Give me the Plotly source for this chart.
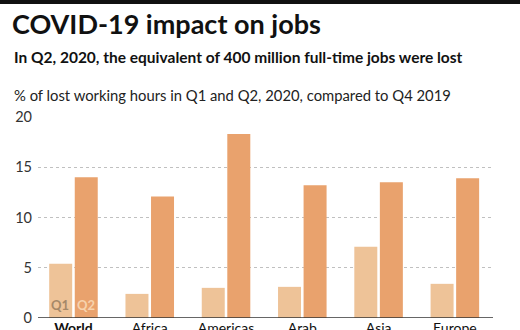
import plotly.graph_objects as go

regions = ["World", "Africa", "Americas", "Arab States", "Asia and Pacific", "Europe and Central Asia"]
tick_labels = ["<b>World</b>", "Africa", "Americas", "Arab<br>States", "Asia<br>and Pacific", "Europe<br>and Central Asia"]
q1_values = [5.4, 2.4, 3.0, 3.1, 7.1, 3.4]
q2_values = [14.0, 12.1, 18.3, 13.2, 13.5, 13.9]
y_ticks = [0, 5, 10, 15, 20]

FONT = "Lato"
W, H = 520, 330
L, R, T, B = 38, 27, 117, 12
pw = W - L - R
ph = H - T - B

def px_to_paper_x(px):
    return (px - L) / pw

def px_to_paper_y(py):
    return (H - B - py) / ph

fig = go.Figure()
fig.add_trace(go.Bar(x=regions, y=q1_values, name="Q1", marker=dict(color="#EEC398", line=dict(width=0))))
fig.add_trace(go.Bar(x=regions, y=q2_values, name="Q2", marker=dict(color="#E9A26D", line=dict(width=0))))

fig.update_layout(
    template="none",
    width=W, height=H,
    margin=dict(l=L, r=R, t=T, b=B, pad=0),
    paper_bgcolor="white", plot_bgcolor="white",
    showlegend=False,
    barmode="group",
    bargap=0.33,
    bargroupgap=0.1,
    font=dict(family=FONT, color="#222"),
    title=dict(text="<b>COVID-19 impact on jobs</b>", x=12 / W, xanchor="left", xref="container",
               y=1 - 25 / H, yanchor="middle", yref="container",
               font=dict(family=FONT, size=27, color="#111")),
)

fig.update_xaxes(
    type="category",
    range=[-0.465, 5.5],
    tickmode="array", tickvals=regions, ticktext=tick_labels,
    tickangle=0,
    showgrid=False, showline=False, ticks="", automargin=False,
    tickfont=dict(family=FONT, size=14, color="#111"),
    zeroline=False,
)
fig.update_yaxes(
    range=[0, 20],
    tickmode="array", tickvals=y_ticks,
    showgrid=True, gridcolor="#c0c0c0", griddash="dot", gridwidth=1,
    showline=False, ticks="", automargin=False,
    ticklabelstandoff=5,
    tickfont=dict(family=FONT, size=14.5, color="#333"),
    zeroline=False,
)

# baseline
fig.add_shape(type="line", xref="paper", yref="y", x0=0, x1=1, y0=0, y1=0,
              line=dict(color="#333", width=1.5), layer="above")
# top black band
fig.add_shape(type="rect", xref="paper", yref="paper",
              x0=px_to_paper_x(0), x1=px_to_paper_x(W), y0=px_to_paper_y(4), y1=px_to_paper_y(-2),
              fillcolor="#111", line=dict(width=0))

fig.add_annotation(text="<b>In Q2, 2020, the equivalent of 400 million full-time jobs were lost</b>",
                   xref="paper", yref="paper", x=px_to_paper_x(12), y=px_to_paper_y(57),
                   xanchor="left", yanchor="middle", showarrow=False,
                   font=dict(family=FONT, size=15.5, color="#111"))
fig.add_annotation(text="% of lost working hours in Q1 and Q2, 2020, compared to Q4 2019",
                   xref="paper", yref="paper", x=px_to_paper_x(12), y=px_to_paper_y(95),
                   xanchor="left", yanchor="middle", showarrow=False,
                   font=dict(family=FONT, size=14.8, color="#222"))

fig.add_annotation(text="<b>Q1</b>", xref="x", yref="y", x=regions[0], y=0, xshift=-13, yshift=3,
                   yanchor="bottom", showarrow=False, font=dict(family=FONT, size=13, color="#A58868"))
fig.add_annotation(text="<b>Q2</b>", xref="x", yref="y", x=regions[0], y=0, xshift=13, yshift=3,
                   yanchor="bottom", showarrow=False, font=dict(family=FONT, size=13, color="#F7D3AE"))

fig.write_html("out.html")
